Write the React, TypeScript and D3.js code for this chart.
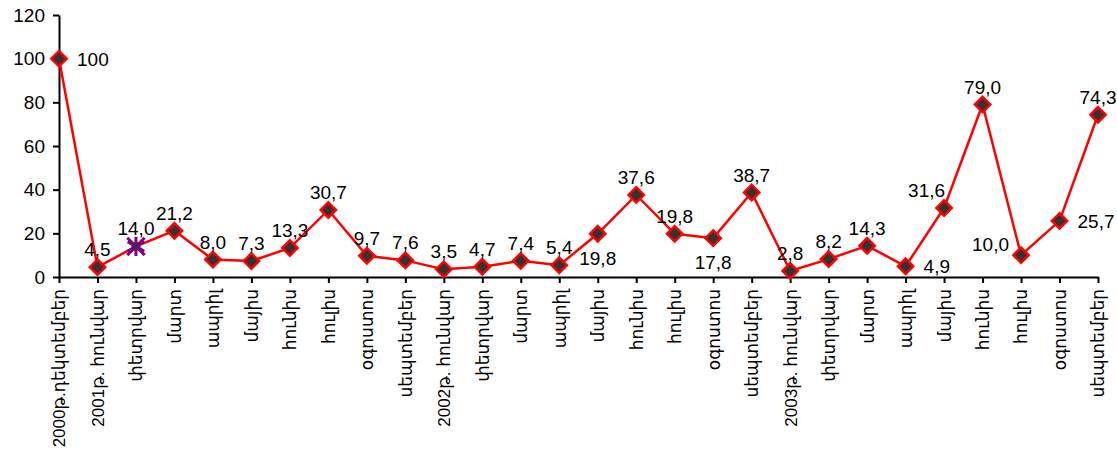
import { useEffect, useRef } from 'react'
import * as d3 from 'd3'

const months = [
	'2000թ.դեկտեմբեր',
	'2001թ. հունվար',
	'փետրվար',
	'մարտ',
	'ապրիլ',
	'մայիս',
	'հունիս',
	'հուլիս',
	'օգոստոս',
	'սեպտեմբեր',
	'2002թ. հունվար',
	'փետրվար',
	'մարտ',
	'ապրիլ',
	'մայիս',
	'հունիս',
	'հուլիս',
	'օգոստոս',
	'սեպտեմբեր',
	'2003թ. հունվար',
	'փետրվար',
	'մարտ',
	'ապրիլ',
	'մայիս',
	'հունիս',
	'հուլիս',
	'օգոստոս',
	'սեպտեմբեր',
]

const values = [
	100, 4.5, 14.0, 21.2, 8.0, 7.3, 13.3, 30.7, 9.7, 7.6, 3.5, 4.7, 7.4, 5.4,
	19.8, 37.6, 19.8, 17.8, 38.7, 2.8, 8.2, 14.3, 4.9, 31.6, 79.0, 10.0, 25.7,
	74.3,
]

const yTicks = [0, 20, 40, 60, 80, 100, 120]

// where each value label sits relative to its point
const labelPos = [
	'right', 'above', 'above', 'above', 'above', 'above', 'above', 'above',
	'above', 'above', 'above', 'above', 'above', 'above', 'below', 'above',
	'above', 'below', 'above', 'above', 'above', 'above', 'right', 'aboveLeft',
	'above', 'left', 'right', 'above',
]

// the third point uses a different marker
const specialIndex = 2

const font = '"Liberation Sans", Arial, "DejaVu Sans", sans-serif'

const LineChart = () => {
	const svgRef = useRef<SVGSVGElement>(null)

	useEffect(() => {
		const margin = { top: 15, right: 19, bottom: 196, left: 59 }
		const W = 1117
		const H = 473
		const width = W - margin.left - margin.right
		const height = H - margin.top - margin.bottom

		d3.select(svgRef.current).selectAll('*').remove()

		const svg = d3
			.select(svgRef.current)
			.attr('width', W)
			.attr('height', H)
			.append('g')
			.attr('transform', `translate(${margin.left},${margin.top})`)

		const idx = months.map((_, i) => i)
		const x = d3.scalePoint<number>().domain(idx).range([0, width])
		const y = d3.scaleLinear().domain([0, 120]).range([height, 0])

		const points = values.map((v, i) => ({ v, i }))

		// Y axis
		const yAxis = svg
			.append('g')
			.call(d3.axisLeft(y).tickValues(yTicks).tickSize(6).tickSizeOuter(0).tickPadding(8))
		yAxis.selectAll('path, line').attr('stroke', '#000').attr('stroke-width', 2)
		yAxis
			.selectAll('text')
			.style('font-family', font)
			.style('font-size', '19px')
			.attr('fill', '#000')

		// X axis
		const xAxis = svg
			.append('g')
			.attr('transform', `translate(0,${height})`)
			.call(d3.axisBottom(x).tickSize(6).tickSizeOuter(0).tickFormat((i) => months[i]))
		xAxis.selectAll('path, line').attr('stroke', '#000').attr('stroke-width', 2)
		xAxis
			.selectAll('text')
			.attr('transform', 'rotate(-90)')
			.attr('x', -12)
			.attr('y', 0)
			.attr('dy', '0.35em')
			.style('text-anchor', 'end')
			.style('font-family', font)
			.style('font-size', '17px')
			.attr('fill', '#000')

		// Line
		const line = d3
			.line<{ v: number; i: number }>()
			.x((d) => x(d.i)!)
			.y((d) => y(d.v))
		svg
			.append('path')
			.datum(points)
			.attr('fill', 'none')
			.attr('stroke', '#ff0000')
			.attr('stroke-width', 2.5)
			.attr('d', line)

		// Markers
		const diamond = d3.symbol().type(d3.symbolDiamond2).size(150)
		svg
			.selectAll('.marker')
			.data(points.filter((p) => p.i !== specialIndex))
			.enter()
			.append('path')
			.attr('class', 'marker')
			.attr('transform', (d) => `translate(${x(d.i)},${y(d.v)})`)
			.attr('d', diamond)
			.attr('fill', '#333333')
			.attr('stroke', '#ff0000')
			.attr('stroke-width', 2.5)

		const sp = svg
			.append('g')
			.attr('transform', `translate(${x(specialIndex)},${y(values[specialIndex])})`)
		sp.append('path')
			.attr('d', d3.symbol().type(d3.symbolAsterisk).size(260)())
			.attr('stroke', '#800080')
			.attr('stroke-width', 3)
			.attr('fill', 'none')
		sp.append('path')
			.attr('d', d3.symbol().type(d3.symbolX).size(200)())
			.attr('stroke', '#800080')
			.attr('stroke-width', 3)
			.attr('fill', 'none')
		sp.append('circle').attr('r', 4.5).attr('fill', '#5a1a5a')

		// Value labels
		const fmt = (v: number) => (v === 100 ? '100' : v.toFixed(1).replace('.', ','))
		svg
			.selectAll('.lbl')
			.data(points)
			.enter()
			.append('text')
			.attr('class', 'lbl')
			.style('font-family', font)
			.style('font-size', '19px')
			.attr('fill', '#000')
			.attr('x', (d) => {
				const p = labelPos[d.i]
				if (p === 'right') return x(d.i)! + 18
				if (p === 'left') return x(d.i)! - 12
				if (p === 'aboveLeft') return x(d.i)! + 1
				return x(d.i)!
			})
			.attr('y', (d) => {
				const p = labelPos[d.i]
				if (p === 'right') return y(d.v) + 7
				if (p === 'left') return y(d.v) - 4
				if (p === 'below') return y(d.v) + 31
				return y(d.v) - 11
			})
			.style('text-anchor', (d) => {
				const p = labelPos[d.i]
				if (p === 'right') return 'start'
				if (p === 'left' || p === 'aboveLeft') return 'end'
				return 'middle'
			})
			.text((d) => fmt(d.v))
	}, [])

	return <svg ref={svgRef} style={{ position: 'absolute', left: 0, top: 0 }}></svg>
}

export default function App() {
	return <LineChart />
}
